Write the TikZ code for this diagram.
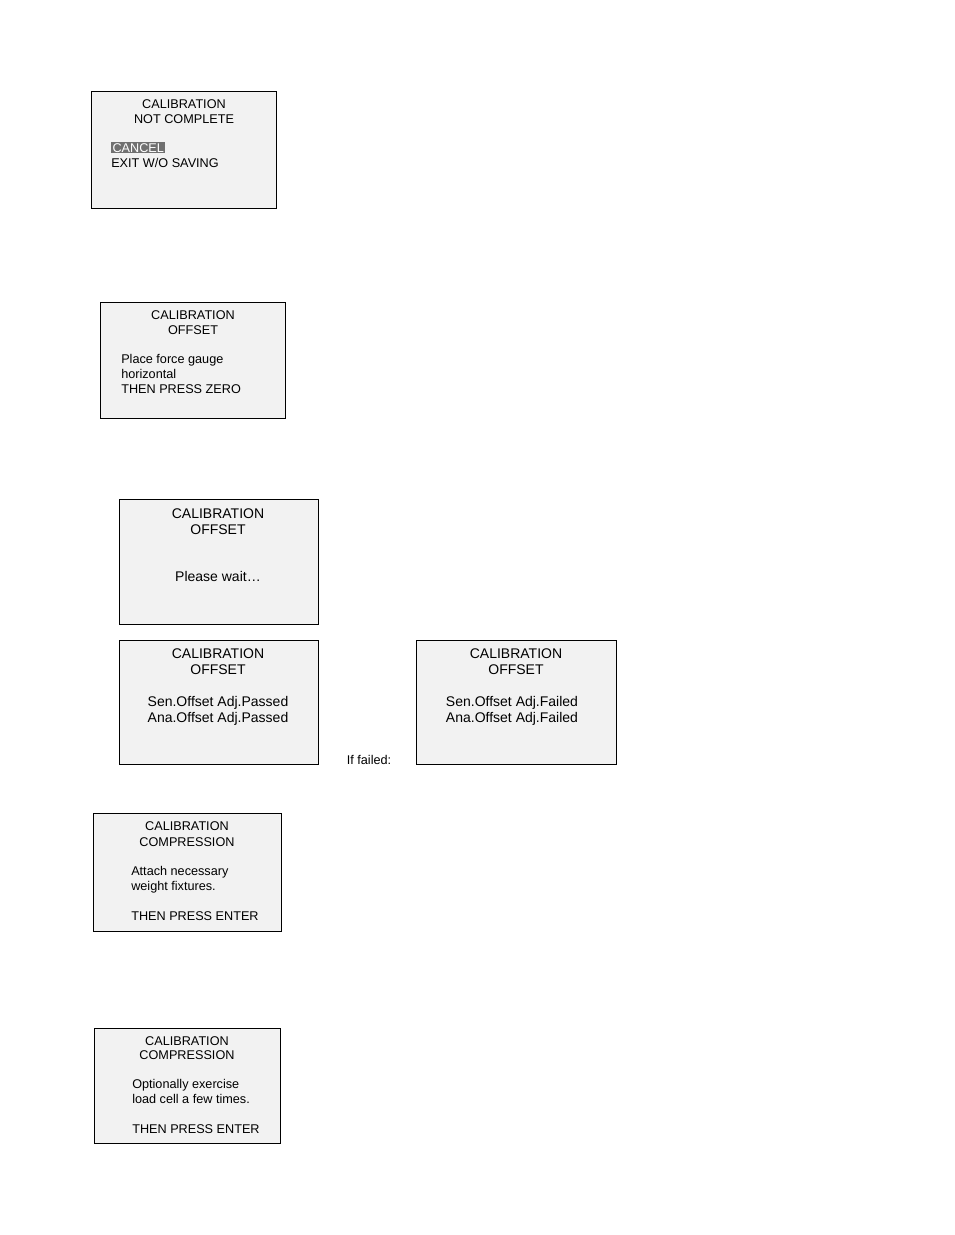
\documentclass[tikz,border=0pt]{standalone}
\usepackage{fontspec}
\setmainfont{Liberation Sans}
\usetikzlibrary{positioning}
\definecolor{screengray}{HTML}{F2F2F2}
\definecolor{selgray}{HTML}{707070}
\begin{document}
\begin{tikzpicture}[x=0.75pt,y=-0.75pt]
		\tikzstyle{Screen}	= [draw=black, fill=screengray, line width=0.6pt]
		\tikzstyle{Line}	= [inner sep=0pt, anchor=base, font=\fontsize{9.5}{11}\selectfont]
		\tikzstyle{Left}	= [Line, anchor=base west]
		\tikzstyle{Big}		= [font=\fontsize{10.5}{12}\selectfont]
		\tikzstyle{Sel}		= [fill=selgray, text=white, inner sep=1pt]

		\useasboundingbox (0,0) rectangle (954,1235);

		% not complete
		\draw [Screen] (91,91) rectangle (276,208);
		\node (a1) at (184,108) [Line] {CALIBRATION};
		\node (a2) at (184,123) [Line] {NOT COMPLETE};
		\node (a3) at (111,152) [Left][Sel] {CANCEL};
		\node (a4) at (111,167) [Left] {EXIT W/O SAVING};

		% offset, place gauge
		\draw [Screen] (100,302) rectangle (285,418);
		\node (b1) at (193,319) [Line] {CALIBRATION};
		\node (b2) at (193,334) [Line] {OFFSET};
		\node (b3) at (121,363) [Left] {Place force gauge};
		\node (b4) at (121,378) [Left] {horizontal};
		\node (b5) at (121,393) [Left] {THEN PRESS ZERO};

		% offset, wait
		\draw [Screen] (119,499) rectangle (318,624);
		\node (c1) at (218,518) [Line][Big] {CALIBRATION};
		\node (c2) at (218,534) [Line][Big] {OFFSET};
		\node (c3) at (218,581) [Line][Big] {Please wait…};

		% offset, passed
		\draw [Screen] (119,640) rectangle (318,764);
		\node (d1) at (218,658) [Line][Big] {CALIBRATION};
		\node (d2) at (218,674) [Line][Big] {OFFSET};
		\node (d3) at (218,706) [Line][Big] {Sen.Offset Adj.Passed};
		\node (d4) at (218,722) [Line][Big] {Ana.Offset Adj.Passed};

		% offset, failed
		\node (f0) at (369,764) [Line] {If failed:};
		\draw [Screen] (416,640) rectangle (616,764);
		\node (e1) at (516,658) [Line][Big] {CALIBRATION};
		\node (e2) at (516,674) [Line][Big] {OFFSET};
		\node (e3) at (512,706) [Line][Big] {Sen.Offset Adj.Failed};
		\node (e4) at (512,722) [Line][Big] {Ana.Offset Adj.Failed};

		% compression, fixtures
		\draw [Screen] (93,813) rectangle (281,931);
		\node (g1) at (187,830) [Line] {CALIBRATION};
		\node (g2) at (187,846) [Line] {COMPRESSION};
		\node (g3) at (131,875) [Left] {Attach necessary};
		\node (g4) at (131,890) [Left] {weight fixtures.};
		\node (g5) at (131,920) [Left] {THEN PRESS ENTER};

		% compression, exercise
		\draw [Screen] (94,1028) rectangle (280,1143);
		\node (h1) at (187,1045) [Line] {CALIBRATION};
		\node (h2) at (187,1059) [Line] {COMPRESSION};
		\node (h3) at (132,1088) [Left] {Optionally exercise};
		\node (h4) at (132,1103) [Left] {load cell a few times.};
		\node (h5) at (132,1133) [Left] {THEN PRESS ENTER};
	\end{tikzpicture}
\end{document}
